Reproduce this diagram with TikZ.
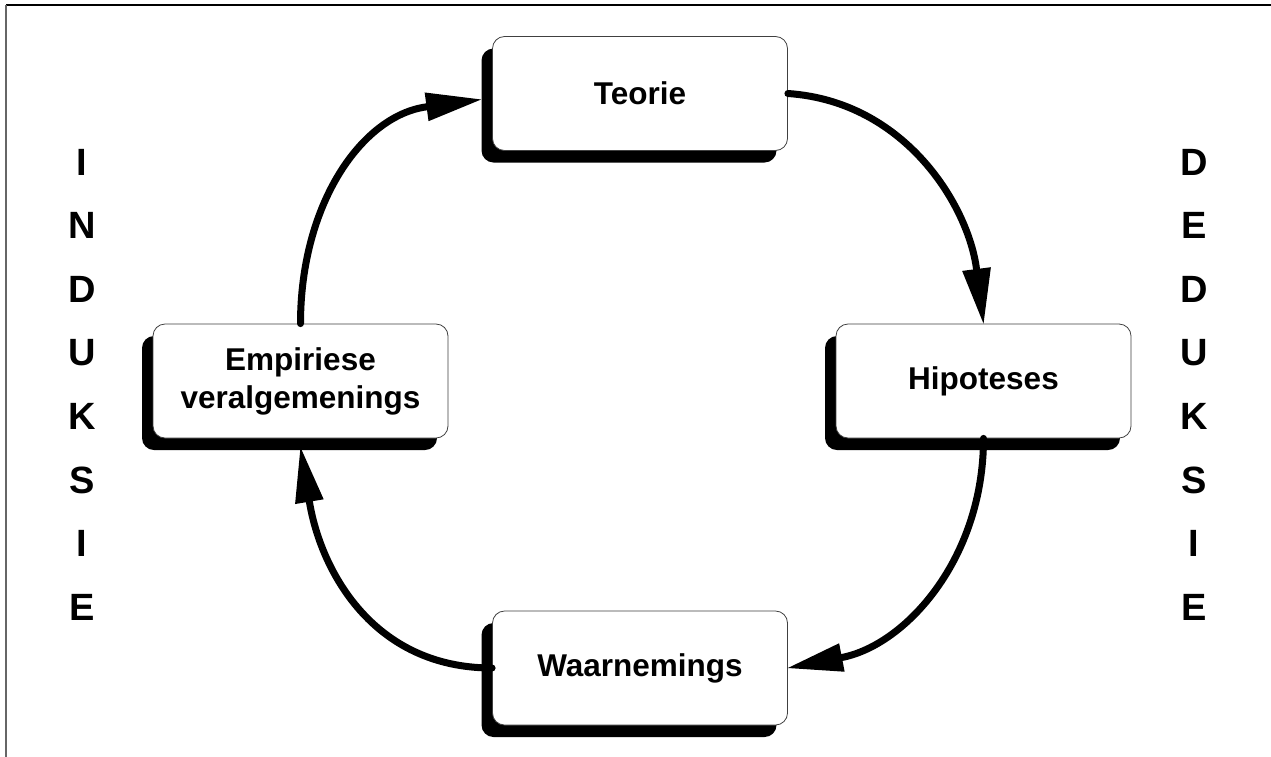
\documentclass[tikz,border=0pt]{standalone}
\usepackage{fontspec}
\setmainfont{Liberation Sans}
\usetikzlibrary{arrows.meta,shadows}
\begin{document}
\begin{tikzpicture}[x=1pt,y=-1pt,
  box/.style={draw=black!75, line width=0.8pt, fill=white, rounded corners=12pt,
    minimum width=295pt, minimum height=114pt, align=center,
    font=\bfseries\fontsize{31.5}{38}\selectfont,
    drop shadow={shadow xshift=-11pt, shadow yshift=-12pt, fill=black, opacity=1}},
  conn/.style={line width=7pt, line cap=round, -{Triangle[length=55pt,width=29pt,line width=0pt]}},
  side/.style={font=\bfseries\fontsize{38}{42}\selectfont, inner sep=0pt}]
\useasboundingbox (0,0) rectangle (1271,756);
\fill[white] (0,0) rectangle (1271,756);
\draw[line width=1.5pt] (6,5) -- (1272,5);
\draw[black!60, line width=2pt] (6,5) -- (6,757);

\node[box] (T) at (640,93.5) {Teorie};
\node[box] (H) at (983.5,381) {Hipoteses};
\node[box] (W) at (640,668) {Waarnemings};
\node[box] (E) at (300.5,381) {Empiriese\\veralgemenings};

\draw[conn] (T.east) .. controls +(118,8) and +(-15,-117) .. (H.north);
\draw[conn] (H.south) .. controls +(0,120) and +(118,-23) .. (W.east);
\draw[conn] (W.west) .. controls +(-120,0) and +(20,122) .. ([yshift=-9pt]E.south);
\draw[conn] (E.north) .. controls +(0,-120) and +(-119,16) .. ([xshift=-11pt,yshift=-6pt]T.west);

\foreach \L [count=\i from 0] in {I,N,D,U,K,S,I,E}
  \node[side] (ind\i) at (82,162+63.6*\i) {\L};
\foreach \L [count=\i from 0] in {D,E,D,U,K,S,I,E}
  \node[side] (ded\i) at (1194,162+63.6*\i) {\L};
\end{tikzpicture}
\end{document}
